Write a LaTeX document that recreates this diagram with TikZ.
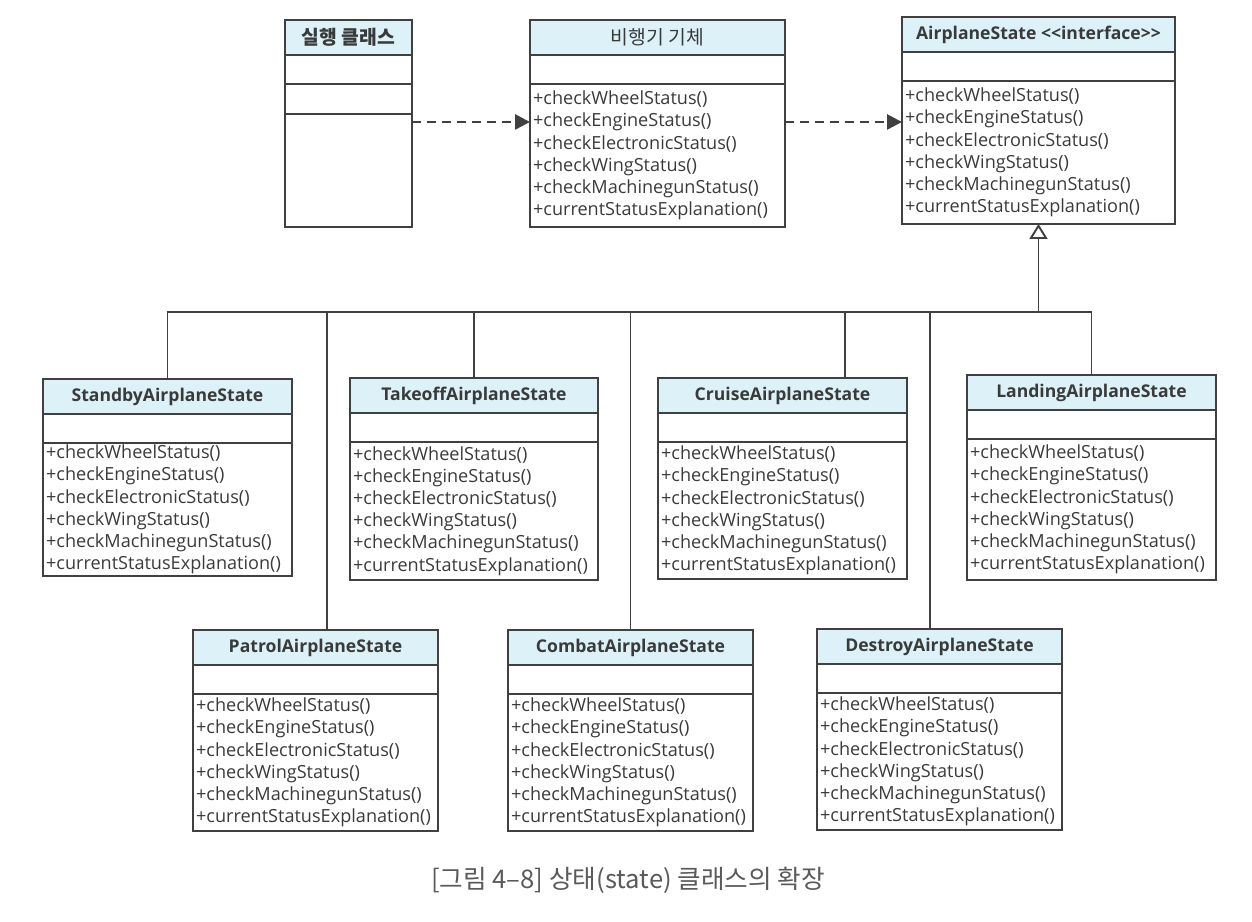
\documentclass[tikz,border=0pt]{standalone}
\usepackage{fontspec}
\setmainfont{Open Sans}
\newfontfamily\kr{Noto Sans CJK KR}
\usepackage{xcolor}
\usepackage{tikz}
\usetikzlibrary{calc, positioning, arrows.meta}
\definecolor{headfill}{HTML}{DCF2F8}
\definecolor{linegray}{HTML}{404040}
\definecolor{textgray}{HTML}{3A3A3A}
\definecolor{capgray}{HTML}{5A5A5A}
\newcommand{\opslist}{+checkWheelStatus()\\+checkEngineStatus()\\+checkElectronicStatus()\\+checkWingStatus()\\+checkMachinegunStatus()\\+currentStatusExplanation()}
\newcommand{\umlclass}[6]{%
    \pgfmathsetlengthmacro{\boxw}{#4*0.02cm}%
    \pgfmathsetlengthmacro{\opsw}{#4*0.02cm-3.5pt}%
    \node[classhead, minimum width=\boxw] (#1) at (#2,#3) {#5};
    \node[classattr, minimum width=\boxw] (#1-a) at (#1.south) {};
    \node[classops, text width=\opsw, minimum height=#6] (#1-m) at (#1-a.south) {\opslist};
}
\tikzset{
    box/.style={draw=linegray, line width=0.8pt, outer sep=0pt, inner sep=0pt},
    classhead/.style={box, fill=headfill, minimum height=0.7cm, anchor=north west,
        font=\fontsize{10}{12}\selectfont\bfseries, text=textgray},
    classattr/.style={box, minimum height=0.58cm, anchor=north},
    classops/.style={box, anchor=north, align=left, inner xsep=1.75pt,
        font=\fontsize{10.3}{12.6}\selectfont, text=textgray},
    dep/.style={draw=linegray, line width=1.5pt, dash pattern=on 0.18cm off 0.12cm,
        -{Triangle[length=0.3cm, width=0.3cm]}},
    inherit/.style={draw=linegray, line width=1.1pt,
        -{Triangle[open, length=0.3cm, width=0.36cm, fill=white]}},
    tree/.style={draw=linegray, line width=0.8pt},
}

\begin{document}
\begin{tikzpicture}[x=0.02cm, y=-0.02cm]
    \useasboundingbox (0,0) rectangle (1252,922);

    % top row
    \node[classhead, minimum width=2.54cm, font=\kr\fontsize{11}{13}\selectfont\bfseries] (run) at (285,20) {실행 클래스};
    \node[classattr, minimum width=2.54cm] (run-a) at (run.south) {};
    \node[classattr, minimum width=2.54cm, minimum height=0.6cm] (run-m) at (run-a.south) {};
    \node[classattr, minimum width=2.54cm, minimum height=2.26cm] (run-x) at (run-m.south) {};

    \umlclass{body}{530}{20}{255}{\kr\fontsize{11}{13}\selectfont\mdseries 비행기 기체}{2.86cm}
    \umlclass{iface}{902}{17}{273}{AirplaneState {<}{<}interface{>}{>}}{2.86cm}

    % states
    \umlclass{std}{43}{379}{249}{StandbyAirplaneState}{2.66cm}
    \umlclass{tko}{350}{378}{248}{TakeoffAirplaneState}{2.76cm}
    \umlclass{crs}{658}{378}{249}{CruiseAirplaneState}{2.74cm}
    \umlclass{land}{967}{375}{249}{LandingAirplaneState}{2.82cm}
    \umlclass{pat}{193}{630}{245}{PatrolAirplaneState}{2.74cm}
    \umlclass{cmb}{508}{630}{245}{CombatAirplaneState}{2.74cm}
    \umlclass{dst}{817}{629}{245}{DestroyAirplaneState}{2.74cm}

    \coordinate (d1) at ([yshift=-0.16cm]run-x.north east);
    \draw[dep] (d1) -- (d1 -| body-m.west);
    \draw[dep] (d1 -| body-m.east) -- (d1 -| iface-m.west);

    \coordinate (bus) at (0,312);
    \coordinate (pat-top) at ([xshift=0.23cm]pat.north);
    \coordinate (crs-top) at ([xshift=1.25cm]crs.north);
    \coordinate (dst-top) at ([xshift=-0.19cm]dst.north);
    \draw[inherit] (iface-m.south |- bus) -- (iface-m.south);
    \draw[tree] (std.north) |- (land.north |- bus) -- (land.north);
    \draw[tree] (pat-top |- bus) -- (pat-top);
    \draw[tree] (tko.north |- bus) -- (tko.north);
    \draw[tree] (cmb.north |- bus) -- (cmb.north);
    \draw[tree] (crs-top |- bus) -- (crs-top);
    \draw[tree] (dst-top |- bus) -- (dst-top);

    \node[text=capgray, font=\kr\fontsize{14.6}{17}\selectfont] (cap) at (628,880) {[그림 4–8] 상태(state) 클래스의 확장};
\end{tikzpicture}
\end{document}
